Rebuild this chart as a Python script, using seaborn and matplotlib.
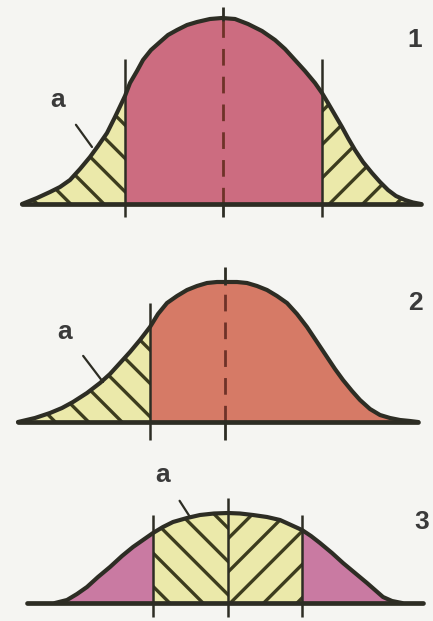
import matplotlib
matplotlib.use('Agg')
import matplotlib.pyplot as plt
import seaborn as sns
import numpy as np

# values: trait value (x) and frequency (h) along each curve
x1 = [2.2, 3.7, 5.0, 6.0, 7.0, 8.0, 9.0, 9.8, 10.7, 11.5, 12.5, 13.0, 13.7, 14.3, 15.1, 16.0,
      16.8, 17.7, 18.7, 19.7, 21.0, 22.2, 23.5, 24.8, 26.2, 27.5, 28.5, 29.5, 30.5, 31.5,
      32.2, 32.8, 33.5, 34.2, 34.8, 35.5, 36.3, 37.2, 38.0, 38.8, 39.6, 40.5, 41.3, 42.1]
h1 = [0, 0.6, 1.2, 1.7, 2.4, 3.5, 4.7, 5.8, 7.1, 8.7, 10.8, 12.1, 13.3, 14.4, 15.4, 16.2,
      16.9, 17.4, 17.9, 18.2, 18.5, 18.6, 18.5, 18.0, 17.3, 16.4, 15.5, 14.4, 13.3, 12.1,
      11.1, 10.1, 8.9, 7.7, 6.6, 5.4, 4.2, 3.1, 2.2, 1.4, 0.8, 0.4, 0.15, 0]
cuts1 = [12.5, 32.2]
mean1 = 22.3

x2 = [1.8, 3.5, 5.0, 6.2, 7.3, 8.7, 10.0, 11.0, 12.0, 13.0, 14.0, 15.0, 15.8, 16.7, 17.7,
      18.7, 19.7, 20.7, 21.7, 22.7, 23.7, 24.7, 25.7, 26.7, 27.7, 28.7, 29.7, 30.7, 31.7,
      32.7, 33.5, 34.3, 35.2, 36.0, 37.0, 38.0, 39.0, 40.0, 41.0, 41.8]
h2 = [0, 0.4, 0.9, 1.4, 2.0, 2.9, 3.9, 4.8, 5.9, 7.0, 8.2, 9.5, 10.8, 11.9, 12.6,
      13.2, 13.6, 13.9, 14.0, 14.0, 14.0, 13.9, 13.6, 13.2, 12.6, 11.9, 10.8, 9.5, 8.0,
      6.5, 5.3, 4.2, 3.1, 2.2, 1.3, 0.7, 0.4, 0.2, 0.1, 0]
cuts2 = [15.0]
mean2 = 22.5

x3 = [5.5, 6.7, 7.7, 8.7, 9.8, 11.0, 12.2, 13.3, 14.3, 15.3, 16.3, 17.3, 18.7, 20.0, 21.4,
      22.8, 24.0, 25.3, 26.7, 28.0, 29.1, 30.2, 31.1, 32.0, 33.2, 34.3, 35.5, 36.7, 37.5,
      38.3, 39.2, 40.2]
h3 = [0, 0.3, 0.9, 1.6, 2.6, 3.6, 4.7, 5.6, 6.3, 7.0, 7.6, 8.1, 8.5, 8.8, 8.95,
      9.0, 8.95, 8.8, 8.6, 8.3, 7.8, 7.3, 6.7, 6.0, 5.0, 4.0, 3.0, 2.0, 1.3,
      0.6, 0.2, 0]
cuts3 = [15.3, 30.2]
mean3 = 22.8

panel_names = ['1', '2', '3']

sns.set_theme(style='white')
plt.rcParams['font.family'] = ['Liberation Sans', 'DejaVu Sans']
plt.rcParams['hatch.linewidth'] = 2.4
plt.rcParams['hatch.color'] = '#3c3c1e'

bg = '#f5f5f2'
dark = '#2d2d24'
yellow = '#ebe9aa'
hatchc = '#3c3c1e'
pink1 = '#cc6c80'
red2 = '#d67a66'
pink3 = '#c97aa2'
dash_col = '#6e3228'
txt = '#3a3a3a'

fig = plt.figure(figsize=(4.33, 6.21), dpi=100, facecolor=bg)
H = 621.0

# panel rows in pixels (top, bottom, baseline)
rows = [(0, 230, 204), (245, 450, 422), (455, 621, 603)]
axes = []
for top, bot, base in rows:
    ax = fig.add_axes([0, 1 - bot / H, 1, (bot - top) / H])
    ax.set_xlim(0, 43.3)
    ax.set_ylim(-(bot - base) / 10, (base - top) / 10)
    ax.set_facecolor(bg)
    ax.axis('off')
    axes.append(ax)

curve_lw = 3.0
arrow = dict(arrowstyle='-', color=dark, lw=1.6, shrinkA=9, shrinkB=0)

# ---- panel 1: stabilising selection
ax = axes[0]
x = np.array(x1); h = np.array(h1)
mid = (x >= cuts1[0]) & (x <= cuts1[1])
ax.fill_between(x, 0, h, where=mid, facecolor=pink1, linewidth=0)
ax.fill_between(x, 0, h, where=x <= cuts1[0], facecolor=yellow, hatch='\\', edgecolor=hatchc, linewidth=0)
ax.fill_between(x, 0, h, where=x >= cuts1[1], facecolor=yellow, hatch='/', edgecolor=hatchc, linewidth=0)
ax.vlines(mean1, 0, h.max(), color=dash_col, lw=2, linestyles=(0, (6, 4)))
ax.vlines(mean1, h.max() - 0.3, 19.7, color=dark, lw=2)
ax.vlines(mean1, -1.3, 0, color=dark, lw=2)
ax.vlines(cuts1, -1.3, 14.5, color=dark, lw=1.8)
sns.lineplot(x=x1, y=h1, ax=ax, color=dark, lw=curve_lw, sort=False)
ax.plot([x1[0], x1[-1]], [0, 0], color=dark, lw=3.4, solid_capstyle='round')
ax.text(41.5, 16.4, panel_names[0], fontsize=19, fontweight='bold', color=txt, ha='center', va='center')
ax.annotate('a', xy=(9.2, 5.7), xytext=(5.8, 10.4), fontsize=19, fontweight='bold', color=txt,
            ha='center', va='center', arrowprops=arrow)

# ---- panel 2: directional selection
ax = axes[1]
x = np.array(x2); h = np.array(h2)
ax.fill_between(x, 0, h, where=x >= cuts2[0], facecolor=red2, linewidth=0)
ax.fill_between(x, 0, h, where=x <= cuts2[0], facecolor=yellow, hatch='\\', edgecolor=hatchc, linewidth=0)
ax.vlines(mean2, 0, h.max(), color=dash_col, lw=2, linestyles=(0, (6, 4)))
ax.vlines(mean2, h.max() - 0.3, 15.5, color=dark, lw=2)
ax.vlines(mean2, -1.8, 0, color=dark, lw=2)
ax.vlines(cuts2, -1.8, 11.9, color=dark, lw=1.8)
sns.lineplot(x=x2, y=h2, ax=ax, color=dark, lw=curve_lw, sort=False)
ax.plot([x2[0], x2[-1]], [0, 0], color=dark, lw=3.4, solid_capstyle='round')
ax.text(41.5, 11.9, panel_names[1], fontsize=19, fontweight='bold', color=txt, ha='center', va='center')
ax.annotate('a', xy=(10.3, 4.0), xytext=(6.5, 9.0), fontsize=19, fontweight='bold', color=txt,
            ha='center', va='center', arrowprops=arrow)

# ---- panel 3: disruptive selection
ax = axes[2]
x = np.array(x3); h = np.array(h3)
ax.fill_between(x, 0, h, where=x <= cuts3[0], facecolor=pink3, linewidth=0)
ax.fill_between(x, 0, h, where=x >= cuts3[1], facecolor=pink3, linewidth=0)
ax.fill_between(x, 0, h, where=(x >= cuts3[0]) & (x <= mean3), facecolor=yellow, hatch='\\',
                edgecolor=hatchc, linewidth=0)
ax.fill_between(x, 0, h, where=(x >= mean3) & (x <= cuts3[1]), facecolor=yellow, hatch='/',
                edgecolor=hatchc, linewidth=0)
ax.vlines(cuts3, -1.4, 8.8, color=dark, lw=1.8)
ax.vlines(mean3, -1.4, 10.5, color=dark, lw=1.8)
sns.lineplot(x=x3, y=h3, ax=ax, color=dark, lw=curve_lw, sort=False)
ax.plot([2.7, 42.3], [0, 0], color=dark, lw=3.4, solid_capstyle='round')
ax.text(42.2, 8.1, panel_names[2], fontsize=19, fontweight='bold', color=txt, ha='center', va='center')
ax.annotate('a', xy=(19.0, 8.6), xytext=(16.3, 12.8), fontsize=19, fontweight='bold', color=txt,
            ha='center', va='center', arrowprops=arrow)

fig.savefig('out.png', dpi=100, facecolor=bg)
